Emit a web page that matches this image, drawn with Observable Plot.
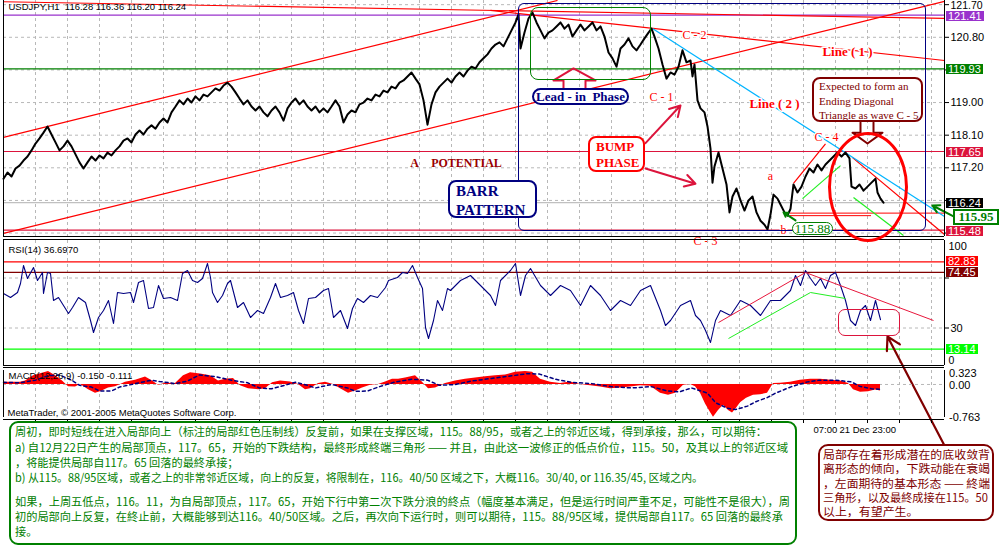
<!DOCTYPE html>
<html><head><meta charset="utf-8">
<script src="https://cdn.jsdelivr.net/npm/d3@7"></script>
<script src="https://cdn.jsdelivr.net/npm/@observablehq/plot@0.6"></script>
<style>
body{margin:0;background:#fff;}
#root{position:relative;width:1000px;height:556px;overflow:hidden;background:#fff;font-family:"Liberation Sans",Arial,sans-serif;}
.abs{position:absolute;box-sizing:border-box;}
svg{overflow:visible;}
.cn{position:absolute;white-space:nowrap;font-family:"Noto Sans CJK SC",sans-serif;font-size:11.5px;line-height:15px;transform-origin:0 0;}
</style></head><body><div id="root"></div>
<script>
// ---------------- DATA ----------------
const headerText = "USDJPY,H1  116.28 116.36 116.20 116.24";
const priceTicks = [121.70, 120.80, 119.90, 119.00, 118.10, 117.20, 116.30, 115.40];
const priceTickLabels = [120.80, 119.00, 118.10, 117.20];
const gridBars = d3.range(8, 236, 8);
// [bar, close]
const priceData = [
[0,116.90],[1,117.07],[2,116.96],[3,117.18],[4,117.26],[5,117.40],[6,117.51],[7,117.68],[8,117.87],[9,118.01],
[10,118.17],[11,118.34],[12,118.12],[13,117.90],[14,117.68],[15,117.79],[16,117.95],[17,117.79],[18,117.57],[19,117.35],
[20,117.18],[21,117.35],[22,117.51],[23,117.40],[24,117.54],[25,117.46],[26,117.62],[27,117.54],[28,117.68],[29,117.79],
[30,117.95],[31,118.01],[32,117.90],[33,118.12],[34,118.23],[35,118.12],[36,118.28],[37,118.37],[38,118.28],[39,118.45],
[40,118.56],[41,118.45],[42,118.73],[43,118.89],[44,119.06],[45,118.95],[46,119.11],[47,119.00],[48,119.17],[49,119.06],
[50,119.22],[51,119.17],[52,119.28],[53,119.39],[54,119.33],[55,119.47],[56,119.55],[57,119.44],[58,119.28],[59,119.11],
[60,118.95],[61,119.06],[62,118.89],[63,118.78],[64,118.89],[65,118.73],[66,118.62],[67,118.78],[68,118.89],[69,118.73],
[70,118.50],[71,118.84],[72,119.00],[73,119.11],[74,118.95],[75,119.06],[76,118.89],[77,118.78],[78,118.89],[79,118.73],
[80,118.84],[81,118.73],[82,118.89],[83,119.06],[84,118.89],[85,118.45],[86,118.67],[87,118.78],[88,118.73],[89,118.95],
[90,119.00],[91,119.11],[92,119.06],[93,119.22],[94,119.17],[95,119.33],[96,119.28],[97,119.44],[98,119.39],[99,119.55],
[100,119.61],[101,119.72],[102,119.83],[103,119.66],[104,119.50],[105,119.06],[106,118.39],[107,118.95],[108,119.28],[109,119.44],
[110,119.55],[111,119.66],[112,119.55],[113,119.72],[114,119.83],[115,119.72],[116,119.88],[117,119.99],[118,119.94],[119,120.11],
[120,120.22],[121,120.33],[122,120.49],[123,120.60],[124,120.66],[125,120.55],[126,120.77],[127,120.99],[128,121.21],
[128.75,121.43],[129.25,120.49],[130.25,120.93],[131.25,121.32],[132.25,121.48],[133.25,121.21],[134.25,120.99],[135.25,120.77],
[136.25,120.93],[137.25,120.99],[138.25,121.10],[139.25,121.21],[140.25,121.04],[141.25,121.15],[142.25,120.82],[143.25,120.99],
[144.25,121.15],[145.25,120.99],[146.25,121.10],[147.25,121.21],[148.25,120.99],[149.25,121.10],[150.25,120.82],[151.25,120.38],
[152.25,120.22],[153.25,119.99],[154.25,120.49],[155.25,120.60],[156.25,120.77],[157.25,120.55],[158.25,120.44],[159.25,120.60],
[160.25,120.77],[161.25,120.93],[162,121.04],[162.75,120.82],[163.75,120.49],[164.75,120.05],[165.75,119.66],[166.75,119.83],
[167.75,119.77],[168.75,119.99],[169.75,120.44],[170.75,120.11],[171.75,120.16],[172.25,119.72],[172.75,120.05],[173.5,119.06],
[174.25,118.84],[175.25,118.73],[176,118.34],[176.75,117.73],[177.25,116.79],[177.75,117.24],[178.75,117.62],[179.75,117.18],
[180.75,116.74],[181.5,115.97],[182.25,116.41],[183.25,116.63],[184.25,116.30],[185.25,116.02],[186.25,116.30],[187.25,116.41],
[188.25,115.97],[189.25,115.74],[190.25,115.63],[191,115.50],[191.75,115.91],[192.5,116.46],[193.5,116.35],[194.25,116.19],
[195.25,115.97],[196,115.88],[196.75,116.07],[197.5,116.74],[198.5,116.52],[199.5,116.68],[200.5,116.96],[201.5,117.18],
[202.5,117.07],[203.5,117.29],[204.5,117.13],[205.5,117.29],[206.5,117.40],[207.5,117.51],[208.5,117.62],[209.5,117.51],
[210.5,117.62],[211.5,117.46],[212,116.68],[213,116.63],[214,116.74],[215,116.57],[216,116.68],[217,116.79],[218,116.90],
[218.5,116.52],[219.25,116.35],[220,116.24]
];
const priceLevels = [
  {name:"purple", value:121.41}, {name:"green", value:119.93}, {name:"crimson", value:117.65},
  {name:"bid", value:116.24}, {name:"crimson", value:115.48}
];
const supportSegments = [{from:196.75, to:235.25, value:115.95}, {from:196.75, to:217, value:115.88}];
// [bar1, price1, bar2, price2]
const redLines = [[0,121.78,235.25,121.32],[121.75,121.54,235.25,120.16],[0,115.39,235.25,121.79],[0,118.04,138.5,121.815],
                  [197.5,116.77,205.5,117.86],[212.25,117.48,235.25,115.36]];
const cyanLines = [[162.25,121.04,235.25,115.86]];
const greenLines = [[199.75,116.35,209.25,117.26],[212.5,116.38,225,115.33]];
const bumpArrows = [[160.5,117.88,169.25,118.92],[160.5,117.18,173,116.76]];
const lowArrow = [[198,115.75,195,115.97]];
const rightArrow = [[237.5,115.86,232.25,116.16]];
const leadArrow = [[140,119.39],[140,119.61],[137.5,119.61],[142.5,119.94],[148,119.61],[145.5,119.61],[145.5,119.39]];
const expectArrow = [[214.25,118.45],[214.25,118.17],[212.25,118.17],[216,117.87],[219.75,118.17],[217.5,118.17],[217.5,118.45]];
const redLabels = [
  {text:"C - 2", bar:172.75, price:120.85},{text:"C - 1", bar:164.5, price:119.14},
  {text:"C - 4", bar:205.75, price:118.04},{text:"a", bar:191.75, price:116.96},
  {text:"b", bar:195, price:115.47},{text:"C - 3", bar:175.5, price:115.17}
];
const lineLabels = [{text:"Line ( 1 )", bar:211, price:120.41},{text:"Line ( 2 )", bar:192.75, price:118.97}];
const potentialLabels = [{text:"A", bar:102.75, price:117.32},{text:"POTENTIAL", bar:115.75, price:117.32}];
const priceTags = [{name:"purple", value:121.41},{name:"green", value:119.93},{name:"crimson", value:117.65},{name:"bid", value:116.24},{name:"crimson", value:115.48}];
const callout = {value:"115.95", top:116.04, bottom:115.60};

// RSI [bar, value]
const rsiLabel = "RSI(14) 36.6970";
const rsiData = [
[0,57.6],[1.75,54.4],[3.5,58.4],[4.25,65.6],[5,80],[6,69.6],[7.5,78.4],[8.5,68],[9.75,74.4],[10,57.6],[11,74.4],[11.75,73.6],
[12.5,52],[13.75,54.4],[15,48],[16.25,41.6],[17.25,46.4],[18.75,54.4],[20.5,50.4],[21.75,36],[22.5,26.4],[23.75,38.4],[25,44],
[26.25,52],[27.5,33.6],[28.5,58.4],[30,57.6],[31.75,58.4],[32.5,50.4],[33.75,66.4],[35,68],[36.25,45.6],[37.5,46.4],[38.75,64],
[40,53.6],[41.75,54.4],[43.5,52],[44.75,73.6],[46,76],[47.25,68],[48.5,66.4],[49.75,69.6],[51,81.6],[51.75,70.4],[52.25,58.4],
[53.5,50.4],[54.75,56],[56,65.6],[56.75,68],[58.5,46.4],[60,50.4],[61.75,38.4],[63.5,44],[65,41.6],[66.75,54.4],[68,65.6],
[69.25,54.4],[71,56],[72.5,58.4],[73.75,44],[75,33.6],[76.25,53.6],[78,54.4],[80,60],[81.25,61.6],[82.5,38.4],[84.25,44],
[86,29.6],[87.25,45.6],[88.5,53.6],[90,50.4],[91.75,56],[93.5,54.4],[95.5,62.4],[96.25,68],[98.5,70.4],[99.75,74.4],[101,73.6],
[102.25,80],[103.5,70.4],[104.75,61.6],[105.5,30.4],[106.25,21.6],[107.5,36],[108.5,52],[109.75,44],[111,61.6],[111.75,60],
[114.25,68],[116.75,72],[119.25,64],[121.75,56],[123,48],[124.25,68],[126.75,76],[128,81.6],[129.25,56],[130.5,72],[131.75,77.6],
[134.25,64],[136.75,56],[139.25,64],[141.75,60],[144.25,48],[146.75,64],[149.25,56],[151.75,44],[154.25,52],[156.75,48],
[159.25,60],[161.75,64],[164.25,44],[165.5,32],[166.75,36],[169.25,48],[171.75,52],[173,40],[174.25,36],[175.5,28],[176.75,18.4],
[178,36],[179.25,44],[181.75,40],[184.25,52],[186.75,48],[189.25,40],[191.75,52],[194.25,52],[196.75,60],[198,72],[199.25,64],
[200.5,76],[201.75,69.6],[203,64],[204.25,69.6],[205.5,61.6],[206.75,72],[208,74.4],[209.25,64],[210.5,52],[211.75,36],[213,32],
[214.25,44],[215.5,48],[216.75,36],[218,52],[219.25,36.7]
];
const rsiLevels = [{name:"high", value:82.83},{name:"mid", value:74.45},{name:"low", value:13.14}];
const rsiTicks = [70, 30];
const rsiTickLabels = [30];
const rsiRedLines = [[178.75,34.4,200.5,74.4],[200.5,74.4,232.5,36]];
const rsiGreenLines = [[181.25,21.6,201.75,58.4],[201.75,58.4,210.5,53.6]];
const rsiArrow = [[235.5,-65.6,221,23.2]];

// MACD [bar, value]
const macdLabel = "MACD(12,26,9) -0.150 -0.111";
const copyright = "MetaTrader, © 2001-2005 MetaQuotes Software Corp.";
const macdData = [
[0.25,0.05],[4.25,0.05],[5.5,0.08],[7.5,0.2],[9.25,0.25],[11.25,0.3],[13,0.2],[14.75,0.08],[16.25,-0.05],[18,-0.06],[19.25,0],
[21.25,-0.12],[23,-0.2],[24.25,-0.17],[26.25,-0.08],[28,-0.05],[30.5,0.05],[33,0.1],[35.5,0.17],[37.25,0.08],[38.75,-0.02],
[40.5,0.03],[43,0.02],[45,0.2],[46.75,0.27],[49.25,0.24],[51.75,0.2],[53.75,0.08],[55.5,0.12],[57.5,0.14],[59.25,-0.03],
[61.25,-0.1],[63.75,-0.12],[65.5,-0.1],[67.25,0.04],[69.25,0.08],[71.75,0.06],[73.75,0],[75.5,-0.12],[76.75,-0.1],[78.75,0.02],
[80.5,0.05],[82.5,0],[84.25,-0.1],[86.25,-0.2],[88,-0.15],[89.75,-0.08],[91.75,-0.02],[93.75,0],[95.5,0.06],[97.25,0.12],
[98.75,0.12],[100.5,0.15],[103,0.2],[104.75,0.05],[106.25,-0.1],[108,-0.08],[110.5,0.02],[113,0.08],[115.5,0.12],[118,0.15],
[120.5,0.18],[123,0.2],[125.5,0.22],[128,0.28],[130.5,0.3],[132.25,0.28],[134.25,0.12],[136.75,0.05],[139.25,0.02],[141.75,0.06],
[144.25,0],[146.75,-0.03],[149.25,-0.06],[151.75,-0.1],[154.25,-0.08],[156.75,-0.06],[159.25,-0.03],[161.75,-0.04],[164.25,-0.2],
[166.25,-0.25],[168,-0.2],[170,-0.02],[171.75,0],[173,-0.05],[174.25,-0.2],[175.5,-0.45],[176.75,-0.65],[177.5,-0.76],[178.75,-0.6],
[180,-0.48],[181.25,-0.6],[182.25,-0.66],[183.25,-0.55],[184.25,-0.42],[185.75,-0.32],[187.5,-0.25],[189.25,-0.24],[191,-0.2],
[192.5,0.02],[194.25,0.03],[196.75,0.05],[199.25,0.1],[201.75,0.12],[204.25,0.12],[206.75,0.1],[209.25,0.08],[211.25,0.02],
[212.5,-0.12],[214.25,-0.18],[216.25,-0.17],[218,-0.13],[219.25,-0.15]
];
const signalData = [
[0,0.05],[4,0.04],[8,0.1],[11,0.2],[14,0.22],[17,0.1],[19,-0.02],[22,-0.06],[24,-0.15],[27,-0.15],[29,-0.06],[33,0.02],[37,0.1],
[39,0.07],[43,0.02],[46,0.08],[49,0.22],[53,0.18],[57,0.1],[61,0.04],[64,-0.08],[67,-0.1],[71,0],[73,0.05],[76,-0.02],[78,-0.08],
[82,0],[86,-0.08],[88,-0.16],[91,-0.15],[94,-0.05],[98,0.06],[102,0.12],[106,0.1],[109,-0.02],[113,0],[117,0.08],[122,0.14],
[127,0.2],[131,0.25],[134,0.24],[138,0.12],[142,0.05],[147,0.02],[152,-0.05],[157,-0.08],[162,-0.05],[166,-0.15],[169,-0.17],
[172,-0.08],[176,-0.2],[178,-0.42],[181,-0.55],[183,-0.58],[186,-0.5],[188,-0.4],[191,-0.3],[193,-0.2],[197,-0.05],[201,0.06],
[204,0.1],[208,0.1],[212,0.06],[214,-0.04],[217,-0.1],[219,-0.11]
];
const macdTickLabels = [{value:0.323, text:"0.323"},{value:0, text:"0.00"},{value:-0.763, text:"-0.763"}];
const timeLabels = [{bar:202, text:"07:00"},{bar:208.5, text:"21 Dec 23:00"}];

const noteLines = [
"周初，即时短线在进入局部向上（标注的局部红色压制线）反复前，如果在支撑区域，115。88/95，或者之上的邻近区域，得到承接，那么，可以期待：",
"a) 自12月22日产生的局部顶点，117。65，开始的下跌结构，最終形成終端三角形 —— 并且，由此这一波修正的低点价位，115。50，及其以上的邻近区域",
"，将能提供局部自117。65 回落的最終承接；",
"b) 从115。88/95区域，或者之上的非常邻近区域，向上的反复，将限制在，116。40/50 区域之下，大概116。30/40, or 116.35/45, 区域之内。",
"",
"如果，上周五低点，116。11，为自局部顶点，117。65，开始下行中第二次下跌分浪的終点（幅度基本满足，但是运行时间严重不足，可能性不是很大），周",
"初的局部向上反复，在終止前，大概能够到达116。40/50区域。之后，再次向下运行时，则可以期待，115。88/95区域，提供局部自117。65 回落的最終承",
"接。"
];
const noteRight = [767, 788, null, 703, null, 790, 783, null];
const sideNoteLines = [
"局部存在着形成潜在的底收敛背",
"离形态的倾向，下跌动能在衰竭",
"，左面期待的基本形态 —— 終端",
"三角形，以及最終成接在115。50",
"以上，有望产生。"
];
const sideRight = [990, 990, 990, 988, null];

// ---------------- STYLE ----------------
const levelColor = {purple:"#9932cc", green:"#008000", crimson:"#dc143c", bid:"#c0c0c0"};
const tagColor = {purple:"#9932cc", green:"#008000", crimson:"#dc143c", bid:"#000000"};
const rsiLevelColor = {high:"#ff0000", mid:"#800000", low:"#00ff00"};
const GRID = {stroke:"#b8b8b8", strokeOpacity:1, strokeDasharray:"3,3"};
const SANS = "'Liberation Sans', Arial, sans-serif";
const SERIF = "'Liberation Serif', 'Times New Roman', serif";
const X_MAX = 235.25;
const root = document.getElementById("root");
const common = {width:1000, marginLeft:3, marginRight:56, x:{domain:[0, X_MAX], axis:null}, color:{type:"identity"},
  style:{background:"transparent", overflow:"visible", fontFamily:SANS, fontSize:"11px"}};
const seg = (s) => ({x1:d=>d[0], y1:d=>d[1], x2:d=>d[2], y2:d=>d[3], ...s});
function mount(svg, top){ svg.style.position="absolute"; svg.style.left="0px"; svg.style.top=top+"px"; root.appendChild(svg); }

// ---------------- PRICE PANEL ----------------
const P_MIN = 115.305, P_MAX = 121.815;
const price = Plot.plot({
  ...common, height:238, marginTop:0, marginBottom:2,
  y:{domain:[P_MIN, P_MAX], axis:null},
  marks:[
    Plot.gridX(gridBars, GRID),
    Plot.gridY(priceTicks, GRID),
    Plot.ruleY(priceLevels, {y:"value", stroke:d=>levelColor[d.name], strokeWidth:1.2}),
    Plot.ruleY(supportSegments, {y:"value", x1:"from", x2:"to", stroke:"#ff0000"}),
    Plot.link(redLines, seg({stroke:"#ff0000", strokeWidth:1.2})),
    Plot.link(cyanLines, seg({stroke:"#00b4ff", strokeWidth:1.2})),
    Plot.link(greenLines, seg({stroke:"#22ee22", strokeWidth:1.2})),
    Plot.line(priceData, {x:d=>d[0], y:d=>d[1], stroke:"#000", strokeWidth:2}),
    Plot.arrow(bumpArrows, seg({stroke:"#dc143c", strokeWidth:2, headLength:9})),
    Plot.arrow(lowArrow, seg({stroke:"#008000", strokeWidth:2, headLength:6})),
    Plot.arrow(rightArrow, seg({stroke:"#008000", strokeWidth:2, headLength:7})),
    Plot.line(leadArrow, {x:d=>d[0], y:d=>d[1], stroke:"#dc143c", strokeWidth:2}),
    Plot.line(expectArrow, {x:d=>d[0], y:d=>d[1], stroke:"#800000", strokeWidth:2}),
    Plot.text(redLabels, {x:"bar", y:"price", text:"text", fill:"#ff0000", stroke:"white", strokeWidth:3, fontFamily:SERIF, fontSize:12}),
    Plot.text(lineLabels, {x:"bar", y:"price", text:"text", fill:"#ff0000", stroke:"white", strokeWidth:3, fontFamily:SERIF, fontSize:13, fontWeight:"bold"}),
    Plot.text(potentialLabels, {x:"bar", y:"price", text:"text", fill:"#990000", fontFamily:SERIF, fontSize:12, fontWeight:"bold"}),
    Plot.ruleX([0], {stroke:"#000"}),
    Plot.ruleX([X_MAX], {stroke:"#000"}),
    Plot.ruleY([P_MIN], {stroke:"#000"}),
    Plot.axisY(priceTicks, {anchor:"right", tickSize:4, label:null, tickFormat:()=>""}),
    Plot.text(priceTickLabels, {x:X_MAX, y:d=>d, dx:6, text:d=>d.toFixed(2), textAnchor:"start", fontSize:11, fill:"#000"}),
    Plot.text([121.70], {x:X_MAX, y:d=>d, dx:6, dy:0.5, text:d=>d.toFixed(2), textAnchor:"start", fontSize:10.5, fill:"#000"}),
    Plot.text([headerText], {frameAnchor:"top-left", dx:5, dy:3, lineAnchor:"top", textAnchor:"start", fontSize:9.5, fill:"#000"})
  ]
});
mount(price, 0);

// ---------------- RSI PANEL ----------------
const RSI_TOP = 238;
const rsi = Plot.plot({
  ...common, height:128, marginTop:2, marginBottom:1,
  y:{domain:[0,100], axis:null},
  marks:[
    Plot.gridX(gridBars, GRID),
    Plot.gridY(rsiTicks, GRID),
    Plot.ruleY(rsiLevels, {y:"value", stroke:d=>rsiLevelColor[d.name], strokeWidth:1.2}),
    Plot.line(rsiData, {x:d=>d[0], y:d=>d[1], stroke:"#000080", strokeWidth:1.1}),
    Plot.link(rsiRedLines, seg({stroke:"#e8173c", strokeWidth:1})),
    Plot.link(rsiGreenLines, seg({stroke:"#22ee22", strokeWidth:1})),
    Plot.arrow(rsiArrow, seg({stroke:"#800000", strokeWidth:2.2, headLength:10})),
    Plot.ruleX([0], {stroke:"#000"}),
    Plot.ruleX([X_MAX], {stroke:"#000"}),
    Plot.ruleY([100], {stroke:"#000", dy:-1}),
    Plot.ruleY([0], {stroke:"#000"}),
    Plot.axisY(rsiTicks, {anchor:"right", tickSize:4, label:null, tickFormat:()=>""}),
    Plot.text(rsiTickLabels, {x:X_MAX, y:d=>d, dx:6, text:d=>String(d), textAnchor:"start", fontSize:11, fill:"#000"}),
    Plot.text([100], {x:X_MAX, y:d=>d, dx:4, dy:6, text:d=>String(d), textAnchor:"start", fontSize:11, fill:"#000"}),
    Plot.text([0], {x:X_MAX, y:d=>d, dx:4, dy:-4.5, text:d=>String(d), textAnchor:"start", fontSize:10.5, fill:"#000"}),
    Plot.text([rsiLabel], {frameAnchor:"top-left", dx:5, dy:6, lineAnchor:"top", textAnchor:"start", fontSize:9.5, fill:"#000"})
  ]
});
mount(rsi, RSI_TOP);

// ---------------- MACD PANEL ----------------
const MACD_TOP = 366;
const M_MIN = -0.763, M_MAX = 0.323;
const macd = Plot.plot({
  ...common, height:74, marginTop:4, marginBottom:23,
  y:{domain:[M_MIN, M_MAX], axis:null},
  marks:[
    Plot.gridX(gridBars, GRID),
    Plot.gridY([0], GRID),
    Plot.areaY(macdData, {x:d=>d[0], y1:0, y2:d=>d[1], fill:"#ff0000"}),
    Plot.line(signalData, {x:d=>d[0], y:d=>d[1], stroke:"#000080", strokeWidth:1.5, strokeDasharray:"3,3"}),
    Plot.ruleX([0], {stroke:"#000"}),
    Plot.ruleX([X_MAX], {stroke:"#000"}),
    Plot.ruleY([M_MAX], {stroke:"#000", dy:-3}),
    Plot.ruleY([M_MIN], {stroke:"#000", dy:2}),
    Plot.axisX(gridBars, {anchor:"bottom", tickSize:4, label:null, tickFormat:()=>"", dy:2}),
    Plot.text(timeLabels, {x:"bar", text:"text", frameAnchor:"bottom", dx:2, dy:15, textAnchor:"start", fontSize:9.5, fill:"#000"}),
    Plot.text([macdLabel], {frameAnchor:"top-left", dx:5, dy:2, lineAnchor:"top", textAnchor:"start", fontSize:9.5, fill:"#000"}),
    Plot.text([copyright], {frameAnchor:"bottom-left", dx:4, dy:-2, lineAnchor:"bottom", textAnchor:"start", fontSize:9.5, fill:"#000"})
  ]
});
mount(macd, MACD_TOP);
{
  const sy = macd.scale("y");
  macdTickLabels.forEach((t,i) => {
    const d = document.createElement("div");
    d.className = "abs";
    let y = MACD_TOP + sy.apply(t.value);
    if (i===0) y += 3;
    if (i===1) y += 1;
    Object.assign(d.style, {left:"949px", top:(y-5)+"px", fontSize:"11px", lineHeight:"10px", color:"#000"});
    d.textContent = t.text;
    root.appendChild(d);
  });
}

// ---------------- HTML ANNOTATIONS ----------------
function boxAt(plot, top, b1, v1, b2, v2, css, html){
  const sx = plot.scale("x"), sy = plot.scale("y");
  const x1 = sx.apply(b1), x2 = sx.apply(b2), y1 = sy.apply(v1), y2 = sy.apply(v2);
  const d = document.createElement("div");
  d.className = "abs";
  Object.assign(d.style, {left:Math.min(x1,x2)+"px", top:(top+Math.min(y1,y2))+"px",
    width:Math.abs(x2-x1)+"px", height:Math.abs(y2-y1)+"px"}, css);
  if (html) d.innerHTML = html;
  root.appendChild(d);
  return d;
}
const serifBold = {fontFamily:SERIF, fontWeight:"bold"};
boxAt(price, 0, 128.75, 121.73, 230.75, 115.45, {border:"1px solid #000080", borderRadius:"6px"});
boxAt(price, 0, 131.75, 121.62, 162, 119.61, {border:"1px solid #008000", borderRadius:"8px"});
boxAt(price, 0, 132.25, 119.39, 156.5, 118.92, {border:"2px solid #000080", borderRadius:"9px", background:"#fff",
  color:"#000080", ...serifBold, fontSize:"13px", lineHeight:"14px", textAlign:"center", whiteSpace:"nowrap"}, "Lead - in&nbsp; Phase");
boxAt(price, 0, 146.25, 118.06, 160.5, 117.07, {border:"2px solid #ff0000", borderRadius:"8px", background:"#fff",
  color:"#ff0000", ...serifBold, fontSize:"13px", lineHeight:"16px", padding:"1px 0 0 6px"}, "BUMP<br>PHASE");
boxAt(price, 0, 111.25, 116.85, 133.5, 115.80, {border:"2px solid #000080", borderRadius:"8px", background:"#fff",
  color:"#000080", ...serifBold, fontSize:"15px", lineHeight:"19px", padding:"0 0 0 6px"}, "BARR<br>PATTERN");
boxAt(price, 0, 202.25, 119.69, 230, 118.45, {border:"2px solid #800000", borderRadius:"8px", background:"#fff",
  color:"#800000", fontFamily:SERIF, fontSize:"11px", lineHeight:"14.5px", padding:"0 0 0 5px", whiteSpace:"nowrap"},
  "Expected to form an<br>Ending Diagonal<br>Triangle as wave C - 5");
boxAt(price, 0, 206.25, 118.17, 226.25, 115.13, {border:"3px solid #ff0000", borderRadius:"50%"});
boxAt(price, 0, 197.25, 115.69, 207.5, 115.33, {border:"1px solid #008000", borderRadius:"7px", background:"#fff",
  color:"#008000", fontFamily:SERIF, fontSize:"13px", lineHeight:"11px", textAlign:"center"}, "115.88");
boxAt(rsi, RSI_TOP, 208.75, 44.8, 224.25, 23.2, {border:"1px solid #dc143c", borderRadius:"7px"});

{
  const sy = price.scale("y");
  priceTags.forEach(t => {
    const d = document.createElement("div");
    d.className = "abs";
    const y = sy.apply(t.value);
    Object.assign(d.style, {left:"946px", top:(y-4)+"px", height:"10px", padding:"0 2px", background:tagColor[t.name],
      color:"#fff", fontSize:"11px", lineHeight:"10px"});
    d.textContent = t.value.toFixed(2);
    root.appendChild(d);
  });
  const y1 = sy.apply(callout.top), y2 = sy.apply(callout.bottom);
  const d = document.createElement("div");
  d.className = "abs";
  Object.assign(d.style, {left:"953px", top:y1+"px", width:"46px", height:(y2-y1)+"px", border:"2px solid #008000",
    background:"#fff", color:"#008000", ...serifBold, fontSize:"13px", lineHeight:"12px", textAlign:"center"});
  d.textContent = callout.value;
  root.appendChild(d);
}
{
  const sy = rsi.scale("y");
  rsiLevels.forEach(t => {
    const d = document.createElement("div");
    d.className = "abs";
    const y = RSI_TOP + sy.apply(t.value);
    Object.assign(d.style, {left:"946px", top:(y-5)+"px", height:"10px", padding:"0 2px", background:rsiLevelColor[t.name],
      color:"#fff", fontSize:"11px", lineHeight:"10px"});
    d.textContent = t.value.toFixed(2);
    root.appendChild(d);
  });
}

function fitLines(lines, rights, left, tops, color){
  let base = null;
  const divs = lines.map((t,i) => {
    if (!t) return null;
    const d = document.createElement("div");
    d.className = "cn";
    Object.assign(d.style, {left:left+"px", top:tops[i]+"px", color});
    d.textContent = t;
    root.appendChild(d);
    return d;
  });
  divs.forEach((d,i) => {
    if (!d || rights[i]==null) return;
    const w = d.getBoundingClientRect().width;
    const s = (rights[i]-left)/w;
    if (base===null) base = s;
    d.style.transform = `scaleX(${s})`;
  });
  divs.forEach((d,i) => { if (d && rights[i]==null && base) d.style.transform = `scaleX(${base})`; });
}
{
  const box = document.createElement("div");
  box.className = "abs";
  Object.assign(box.style, {left:"9px", top:"421px", width:"788px", height:"124px", border:"2px solid #008000",
    borderRadius:"9px", background:"#fff"});
  root.appendChild(box);
  fitLines(noteLines, noteRight, 15, [424, 440, 455, 470, 486, 494, 509, 524], "#008000");
  const side = document.createElement("div");
  side.className = "abs";
  Object.assign(side.style, {left:"818px", top:"444px", width:"176px", height:"77px", border:"2px solid #800000",
    borderRadius:"10px", background:"#fff"});
  root.appendChild(side);
  fitLines(sideNoteLines, sideRight, 823, [447, 461, 475.5, 489.5, 504], "#800000");
}
</script></body></html>
